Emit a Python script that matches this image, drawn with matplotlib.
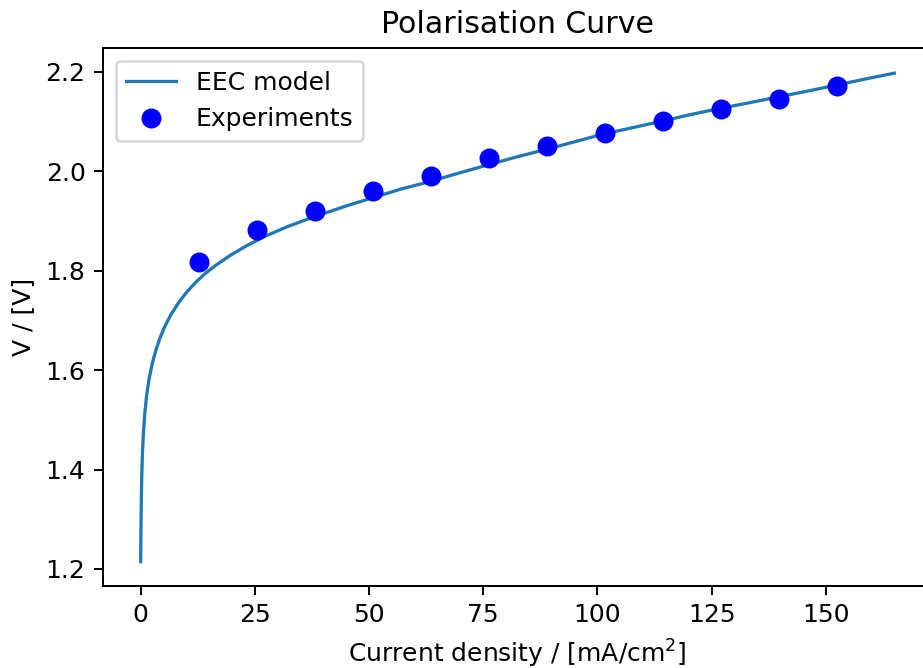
import matplotlib
matplotlib.use("Agg")
import matplotlib.pyplot as plt

# EEC model polarisation curve: current density [mA/cm^2] vs cell voltage [V]
model_current = [0.0, 0.01, 0.03, 0.06, 0.1, 0.15, 0.25, 0.4, 0.6, 0.9, 1.3,
                 1.8, 2.5, 3.2, 4.2, 5.3, 6.6, 8.2, 10.0, 12.0, 14.1, 16.5,
                 19.5, 23.0, 27.0, 32.0, 38.2, 45.0, 51.0, 57.0, 63.3, 70.0,
                 76.2, 82.5, 88.9, 95.0, 100.6, 107.5, 114.4, 120.5, 126.8,
                 133.5, 140.0, 146.0, 152.4, 158.5, 165.0]
model_voltage = [1.215, 1.232, 1.252, 1.280, 1.312, 1.345, 1.392, 1.436, 1.474,
                 1.513, 1.549, 1.580, 1.612, 1.636, 1.664, 1.688, 1.711, 1.734,
                 1.756, 1.776, 1.794, 1.811, 1.830, 1.849, 1.868, 1.888, 1.909,
                 1.930, 1.947, 1.964, 1.979, 1.997, 2.013, 2.029, 2.044, 2.059,
                 2.073, 2.087, 2.101, 2.114, 2.126, 2.138, 2.150, 2.161, 2.173,
                 2.185, 2.197]

# Measured polarisation points
exp_current = [12.7, 25.4, 38.1, 50.8, 63.5, 76.2, 88.9, 101.6, 114.3, 127.0,
               139.7, 152.4]
exp_voltage = [1.817, 1.881, 1.920, 1.960, 1.990, 2.026, 2.050, 2.076, 2.100,
               2.125, 2.145, 2.171]

DPI = 180
fig = plt.figure(figsize=(923 / DPI, 668 / DPI), dpi=DPI)
ax = fig.add_axes([103 / 923, 82 / 668, 829 / 923, 537.7 / 668])

ax.plot(model_current, model_voltage, color="#1f77b4", linewidth=1.3,
        label="EEC model")
ax.plot(exp_current, exp_voltage, "o", color="blue", markersize=7,
        label="Experiments")

ax.set_title("Polarisation Curve", fontsize=12)
ax.set_xlabel("Current density / [mA/cm$^2$]")
ax.set_ylabel("V / [V]")
ax.set_xlim(-8.25, 173.25)
ax.set_ylim(1.1658, 2.247)
ax.set_xticks([0, 25, 50, 75, 100, 125, 150])
ax.set_yticks([1.2, 1.4, 1.6, 1.8, 2.0, 2.2])
ax.legend(loc="upper left")

fig.savefig("out.png", dpi=DPI)
